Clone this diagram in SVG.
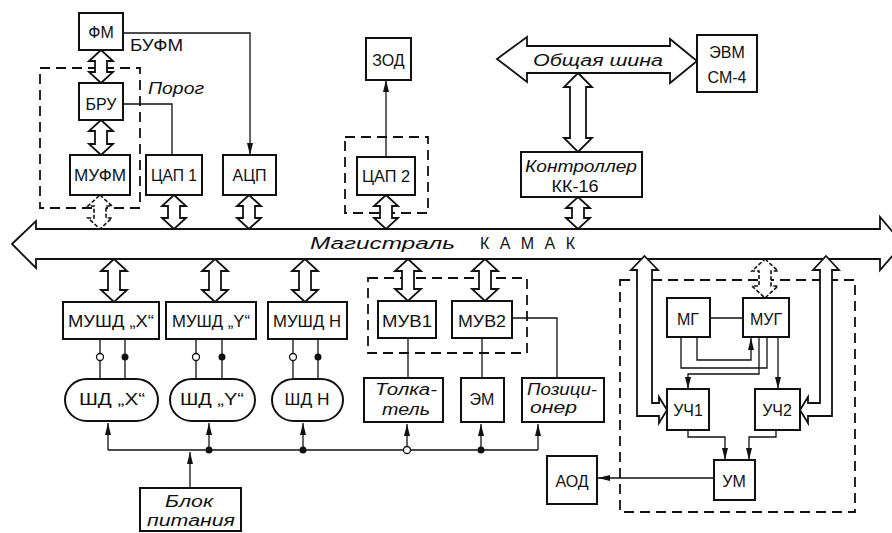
<svg xmlns="http://www.w3.org/2000/svg" width="892" height="533" viewBox="0 0 892 533">
<defs>
<style>
.box{fill:#fff;stroke:#111;stroke-width:2}
.dash{fill:none;stroke:#111;stroke-width:1.8;stroke-dasharray:10 6}
.ln{fill:none;stroke:#111;stroke-width:1.3}
.hol{fill:#fff;stroke:#111;stroke-width:1.8}
.hd{fill:#fff;stroke:#111;stroke-width:1.6;stroke-dasharray:4 2}
.t{font-family:"Liberation Sans",Arial,sans-serif;font-size:16px;fill:#111}
.i{font-style:italic}
.m{text-anchor:middle}
.dot{fill:#111}
.odot{fill:#fff;stroke:#111;stroke-width:1.3}
</style>
<marker id="ah" viewBox="0 0 12 6" refX="12" refY="3" markerWidth="12" markerHeight="6" markerUnits="userSpaceOnUse" orient="auto"><path d="M0,0 L12,3 L0,6 Z" fill="#111"/></marker>
</defs>
<rect width="892" height="533" fill="#fff"/>

<g id="frames">
<rect class="dash" x="40" y="68" width="100" height="140"/>
<rect class="dash" x="345" y="137" width="83" height="76"/>
<rect class="dash" x="368" y="278" width="159" height="75"/>
<rect class="dash" x="620" y="280" width="235" height="232"/>
</g>

<g id="connectors">
<!-- bus KAMAK -->
<path class="hol" d="M12,244 L36,221 L36,229 L880,229 L880,217 L903,244 L880,270 L880,259 L36,259 L36,268 Z"/>
<!-- common bus -->
<path class="hol" d="M497,59 L527,37 L527,46 L670,46 L670,39 L697,61 L670,83 L670,73 L527,73 L527,82 Z"/>
<path class="hol" d="M578,73 L592,87 L586,87 L586,138 L592,138 L578,152 L564,138 L570,138 L570,87 L564,87 Z"/>
<!-- upper double arrows -->
<path class="hol" d="M101,50 L113,61 L107,61 L107,72 L113,72 L101,83 L89,72 L95,72 L95,61 L89,61 Z"/>
<path class="hol" d="M101,120 L113,131 L107,131 L107,144 L113,144 L101,155 L89,144 L95,144 L95,131 L89,131 Z"/>
<path class="hd" d="M100,195 L112,206 L106,206 L106,218 L112,218 L100,229 L88,218 L94,218 L94,206 L88,206 Z"/>
<path class="hol" d="M174,195 L186,206 L180,206 L180,218 L186,218 L174,229 L162,218 L168,218 L168,206 L162,206 Z"/>
<path class="hol" d="M249,195 L261,206 L255,206 L255,218 L261,218 L249,229 L237,218 L243,218 L243,206 L237,206 Z"/>
<path class="hol" d="M386,195 L398,206 L392,206 L392,218 L398,218 L386,229 L374,218 L380,218 L380,206 L374,206 Z"/>
<path class="hol" d="M578,197 L590,208 L584,208 L584,218 L590,218 L578,229 L566,218 L572,218 L572,208 L566,208 Z"/>
<!-- lower double arrows -->
<path class="hol" d="M114,259 L127,271 L120,271 L120,290 L127,290 L114,302 L101,290 L108,290 L108,271 L101,271 Z"/>
<path class="hol" d="M215,259 L228,271 L221,271 L221,290 L228,290 L215,302 L202,290 L209,290 L209,271 L202,271 Z"/>
<path class="hol" d="M305,259 L318,271 L311,271 L311,290 L318,290 L305,302 L292,290 L299,290 L299,271 L292,271 Z"/>
<path class="hol" d="M408,259 L421,271 L414,271 L414,289 L421,289 L408,301 L395,289 L402,289 L402,271 L395,271 Z"/>
<path class="hol" d="M485,259 L498,271 L491,271 L491,289 L498,289 L485,301 L472,289 L479,289 L479,271 L472,271 Z"/>
<path class="hd" d="M765,259 L778,271 L771,271 L771,286 L778,286 L765,298 L752,286 L759,286 L759,271 L752,271 Z"/>
<!-- L-shaped arrows to УЧ -->
<path class="hol" d="M644.5,256 L658,270 L652,270 L652,403 L659,403 L659,397 L667,410 L659,423 L659,416 L637,416 L637,270 L631,270 Z"/>
<path class="hol" d="M826,256 L839,270 L832,270 L832,416 L808,416 L808,423 L800,410 L808,397 L808,403 L820,403 L820,270 L813,270 Z"/>
<!-- thin lines -->
<path class="ln" d="M123,33 H250 V155" marker-end="url(#ah)"/>
<path class="ln" d="M123,104 H172 V155"/>
<path class="ln" d="M386,157 V80" marker-end="url(#ah)"/>
<path class="ln" d="M512,318 H557 V378"/>
<path class="ln" d="M408,338 V378"/>
<path class="ln" d="M482,338 V378"/>
<!-- МУШД to ШД -->
<path class="ln" d="M100,339 V379 M125,339 V379 M196,339 V379 M222,339 V379 M293,339 V379 M318,339 V379"/>
<circle class="odot" cx="100" cy="357" r="3.5"/><circle class="dot" cx="125" cy="357" r="3.5"/>
<circle class="odot" cx="196" cy="357" r="3.5"/><circle class="dot" cx="222" cy="357" r="3.5"/>
<circle class="odot" cx="293" cy="357" r="3.5"/><circle class="dot" cx="318" cy="357" r="3.5"/>
<!-- power distribution -->
<path class="ln" d="M108,450 H538"/>
<path class="ln" d="M108,450 V423" marker-end="url(#ah)"/>
<path class="ln" d="M209,450 V423" marker-end="url(#ah)"/>
<path class="ln" d="M303,450 V423" marker-end="url(#ah)"/>
<path class="ln" d="M407,450 V424" marker-end="url(#ah)"/>
<path class="ln" d="M481,450 V424" marker-end="url(#ah)"/>
<path class="ln" d="M538,450 V424" marker-end="url(#ah)"/>
<path class="ln" d="M190,488 V452" marker-end="url(#ah)"/>
<circle class="dot" cx="209" cy="450" r="3.5"/>
<circle class="dot" cx="303" cy="450" r="3.5"/>
<circle class="odot" cx="407" cy="450" r="3.5"/>
<circle class="dot" cx="481" cy="450" r="3.5"/>
<!-- МГ / МУГ / УЧ / УМ -->
<path class="ln" d="M710,318 H743"/>
<path class="ln" d="M681,337 V368 H767 V337"/>
<path class="ln" d="M697,337 V360 H751 V338" marker-end="url(#ah)"/>
<path class="ln" d="M759,337 V374 H688 V389" marker-end="url(#ah)"/>
<path class="ln" d="M778,337 V389" marker-end="url(#ah)"/>
<path class="ln" d="M688,430 V437 H725 V460" marker-end="url(#ah)"/>
<path class="ln" d="M776,430 V437 H749 V460" marker-end="url(#ah)"/>
<path class="ln" d="M714,478 H598" marker-end="url(#ah)"/>
</g>

<g id="bus-labels">
<text class="t i" x="310" y="249" font-size="18" textLength="145" lengthAdjust="spacingAndGlyphs">Магистраль</text>
<text class="t" x="480" y="249" font-size="17" textLength="95" lengthAdjust="spacing">КАМАК</text>
<text class="t i" x="533" y="66" font-size="18" textLength="130" lengthAdjust="spacingAndGlyphs">Общая шина</text>
<text class="t" x="130" y="51" font-size="15" textLength="53" lengthAdjust="spacingAndGlyphs">БУФМ</text>
<text class="t i" x="148" y="94" font-size="16" textLength="56" lengthAdjust="spacingAndGlyphs">Порог</text>
</g>

<g id="n-fm"><rect class="box" x="79" y="13" width="44" height="37"/><text class="t m" x="101" y="38" font-size="17">ФМ</text></g>
<g id="n-bru"><rect class="box" x="79" y="83" width="44" height="37"/><text class="t m" x="101" y="110">БРУ</text></g>
<g id="n-mufm"><rect class="box" x="70" y="155" width="60" height="40"/><text class="t m" x="100" y="181" textLength="52" lengthAdjust="spacingAndGlyphs">МУФМ</text></g>
<g id="n-cap1"><rect class="box" x="146" y="155" width="56" height="40"/><text class="t m" x="174" y="181" textLength="46" lengthAdjust="spacingAndGlyphs">ЦАП 1</text></g>
<g id="n-acp"><rect class="box" x="223" y="155" width="53" height="40"/><text class="t m" x="249.5" y="181">АЦП</text></g>
<g id="n-zod"><rect class="box" x="366" y="38" width="45" height="42"/><text class="t m" x="388.5" y="66" font-size="15">ЗОД</text></g>
<g id="n-cap2"><rect class="box" x="357" y="157" width="58" height="38"/><text class="t m" x="386" y="182" textLength="48" lengthAdjust="spacingAndGlyphs">ЦАП 2</text></g>
<g id="n-evm"><rect class="box" x="697" y="35" width="60" height="57"/><text class="t m" x="727" y="58">ЭВМ</text><text class="t m" x="727" y="83">СМ-4</text></g>
<g id="n-kk16"><rect class="box" x="521" y="152" width="121" height="45"/><text class="t i m" x="581" y="172" textLength="112" lengthAdjust="spacingAndGlyphs">Контроллер</text><text class="t m" x="575" y="192" textLength="47" lengthAdjust="spacingAndGlyphs">КК-16</text></g>

<g id="n-mushdx"><rect class="box" x="63" y="302" width="96" height="37"/><text class="t m" x="111" y="327" font-size="15" textLength="86" lengthAdjust="spacingAndGlyphs">МУШД „X“</text></g>
<g id="n-mushdy"><rect class="box" x="166" y="302" width="90" height="37"/><text class="t m" x="211" y="327" font-size="15" textLength="78" lengthAdjust="spacingAndGlyphs">МУШД „Y“</text></g>
<g id="n-mushdn"><rect class="box" x="268" y="302" width="79" height="37"/><text class="t m" x="307" y="327" font-size="15" textLength="68" lengthAdjust="spacingAndGlyphs">МУШД Н</text></g>
<g id="n-muv1"><rect class="box" x="378" y="301" width="58" height="37"/><text class="t m" x="407" y="327" textLength="50" lengthAdjust="spacingAndGlyphs">МУВ1</text></g>
<g id="n-muv2"><rect class="box" x="452" y="301" width="60" height="37"/><text class="t m" x="482" y="327" textLength="48" lengthAdjust="spacingAndGlyphs">МУВ2</text></g>

<g id="n-shdx"><rect class="box" x="65" y="379" width="93" height="42" rx="22" ry="21"/><text class="t m" x="112" y="405" font-size="15" textLength="66" lengthAdjust="spacingAndGlyphs">ШД „X“</text></g>
<g id="n-shdy"><rect class="box" x="170" y="379" width="85" height="42" rx="22" ry="21"/><text class="t m" x="212" y="405" font-size="15" textLength="64" lengthAdjust="spacingAndGlyphs">ШД „Y“</text></g>
<g id="n-shdn"><rect class="box" x="272" y="379" width="71" height="42" rx="22" ry="21"/><text class="t m" x="307" y="405" font-size="15" textLength="45" lengthAdjust="spacingAndGlyphs">ШД Н</text></g>
<g id="n-tolk"><rect class="box" x="364" y="378" width="79" height="44"/><text class="t i" x="375" y="395" textLength="62" lengthAdjust="spacingAndGlyphs">Толка-</text><text class="t i" x="382" y="415" textLength="48" lengthAdjust="spacingAndGlyphs">тель</text></g>
<g id="n-em"><rect class="box" x="461" y="378" width="43" height="44"/><text class="t m" x="482" y="405">ЭМ</text></g>
<g id="n-poz"><rect class="box" x="522" y="378" width="82" height="44"/><text class="t i" x="527" y="395" textLength="70" lengthAdjust="spacingAndGlyphs">Позици-</text><text class="t i" x="530" y="413" textLength="47" lengthAdjust="spacingAndGlyphs">онер</text></g>
<g id="n-bp"><rect class="box" x="140" y="488" width="101" height="43"/><text class="t i m" x="189" y="507" textLength="48" lengthAdjust="spacingAndGlyphs">Блок</text><text class="t i m" x="191" y="526" textLength="88" lengthAdjust="spacingAndGlyphs">питания</text></g>
<g id="n-aod"><rect class="box" x="547" y="456" width="50" height="48"/><text class="t m" x="572" y="487">АОД</text></g>

<g id="n-mg"><rect class="box" x="667" y="298" width="43" height="39"/><text class="t m" x="688" y="325">МГ</text></g>
<g id="n-mug"><rect class="box" x="743" y="298" width="46" height="39"/><text class="t m" x="766" y="325">МУГ</text></g>
<g id="n-uch1"><rect class="box" x="667" y="389" width="42" height="41"/><text class="t m" x="688" y="416">УЧ1</text></g>
<g id="n-uch2"><rect class="box" x="755" y="389" width="45" height="41"/><text class="t m" x="777" y="416">УЧ2</text></g>
<g id="n-um"><rect class="box" x="714" y="460" width="41" height="40"/><text class="t m" x="734" y="487">УМ</text></g>
</svg>
